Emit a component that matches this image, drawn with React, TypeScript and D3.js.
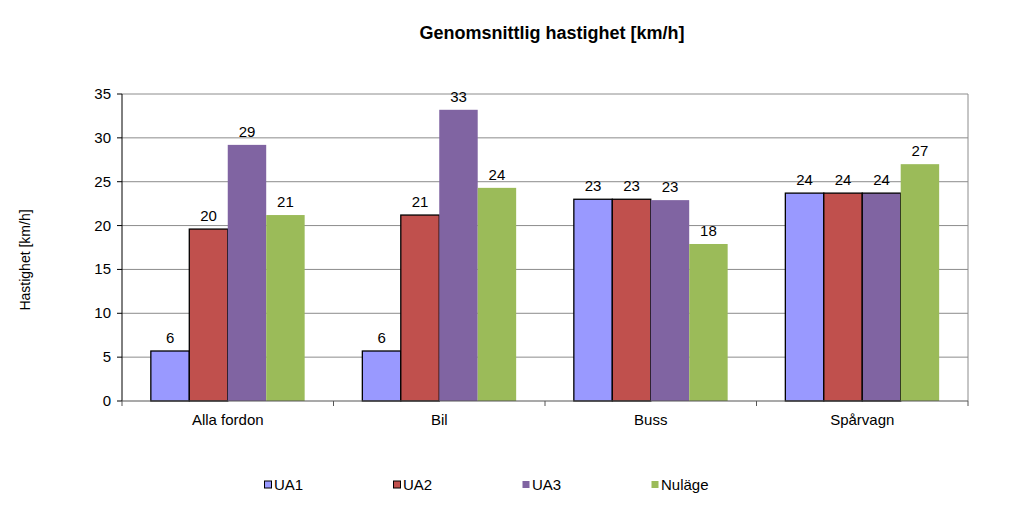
import React from "react";
import * as d3 from "d3";

const categories = ["Alla fordon", "Bil", "Buss", "Spårvagn"];
const seriesNames = ["UA1", "UA2", "UA3", "Nuläge"];
const UA1 = [5.7, 5.7, 23.0, 23.7];
const UA2 = [19.6, 21.2, 23.0, 23.7];
const UA3 = [29.2, 33.2, 22.9, 23.7];
const Nulage = [21.2, 24.3, 17.9, 27.0];
const yTicks = [0, 5, 10, 15, 20, 25, 30, 35];
const colors = ["#9999FF", "#C0504D", "#8064A2", "#9BBB59"];
// which bars carry a dark outline (per series, per category)
const outlined = [
  [true, true, true, true],
  [true, true, true, true],
  [false, false, false, true],
  [false, false, false, false],
];
const legendOutlined = [true, true, false, false];

const W = 1024, H = 505;
const M = { left: 122, right: 968, top: 94, bottom: 401 };
const FONT = "'Liberation Sans', Arial, sans-serif";

export default function App() {
  const values = [UA1, UA2, UA3, Nulage];
  const x0 = d3.scaleBand<string>().domain(categories).range([M.left, M.right]).paddingInner(0).paddingOuter(0);
  const x1 = d3.scaleBand<string>().domain(seriesNames).range([0, x0.bandwidth()]).paddingInner(0).paddingOuter(0.75);
  const y = d3.scaleLinear().domain([0, 35]).range([M.bottom, M.top]);
  const boundaries = categories.map((c) => x0(c) as number).concat([M.right]);
  const legendX = [268, 397, 526, 655];

  return (
    <svg width={W} height={H} style={{ position: "absolute", left: 0, top: 0, background: "#fff" }} fontFamily={FONT}>
      <rect x={0} y={0} width={W} height={H} fill="#fff" />
      <text x={552} y={39} textAnchor="middle" fontSize={18} fontWeight="bold" fill="#000">
        Genomsnittlig hastighet [km/h]
      </text>
      {/* gridlines */}
      {yTicks.map((t) =>
        t > 0 ? <line key={t} x1={M.left} x2={M.right} y1={y(t)} y2={y(t)} stroke="#8c8c8c" strokeWidth={1} /> : null
      )}
      <line x1={M.right} x2={M.right} y1={M.top} y2={M.bottom} stroke="#8c8c8c" strokeWidth={1} />
      {/* bars */}
      {seriesNames.map((s, si) =>
        categories.map((c, ci) => {
          const v = values[si][ci];
          const bx = (x0(c) as number) + (x1(s) as number);
          const by = y(v);
          return (
            <rect
              key={s + c}
              x={bx}
              y={by}
              width={x1.bandwidth()}
              height={M.bottom - by}
              fill={colors[si]}
              stroke={outlined[si][ci] ? "#000" : "none"}
              strokeWidth={outlined[si][ci] ? 1.3 : 0}
            />
          );
        })
      )}
      {/* data labels */}
      {seriesNames.map((s, si) =>
        categories.map((c, ci) => {
          const v = values[si][ci];
          const bx = (x0(c) as number) + (x1(s) as number) + x1.bandwidth() / 2;
          return (
            <text key={"l" + s + c} x={bx} y={y(v) - 8} textAnchor="middle" fontSize={15} fill="#000">
              {d3.format(".0f")(v)}
            </text>
          );
        })
      )}
      {/* axes */}
      <line x1={M.left} x2={M.left} y1={M.top} y2={M.bottom} stroke="#000" strokeWidth={1} />
      <line x1={M.left} x2={M.right} y1={M.bottom} y2={M.bottom} stroke="#555" strokeWidth={1.2} />
      {yTicks.map((t) => (
        <g key={"yt" + t}>
          <line x1={M.left - 5} x2={M.left} y1={y(t)} y2={y(t)} stroke="#000" />
          <text x={M.left - 11} y={y(t) + 5} textAnchor="end" fontSize={15} fill="#000">
            {t}
          </text>
        </g>
      ))}
      {boundaries.map((b, i) => (
        <line key={"xt" + i} x1={b} x2={b} y1={M.bottom} y2={M.bottom + 5} stroke="#555" />
      ))}
      {categories.map((c) => (
        <text key={"xl" + c} x={(x0(c) as number) + x0.bandwidth() / 2} y={425} textAnchor="middle" fontSize={15} fill="#000">
          {c}
        </text>
      ))}
      <text transform={`translate(30,${260}) rotate(-90)`} textAnchor="middle" fontSize={14} fill="#000">
        Hastighet [km/h]
      </text>
      {/* legend */}
      {seriesNames.map((s, i) => (
        <g key={"lg" + s}>
          <rect
            x={legendX[i] - 3.5}
            y={481}
            width={7}
            height={7}
            fill={colors[i]}
            stroke={legendOutlined[i] ? "#000" : "none"}
            strokeWidth={1}
          />
          <text x={legendX[i] + 6} y={490} fontSize={15} fill="#000">
            {s}
          </text>
        </g>
      ))}
    </svg>
  );
}
